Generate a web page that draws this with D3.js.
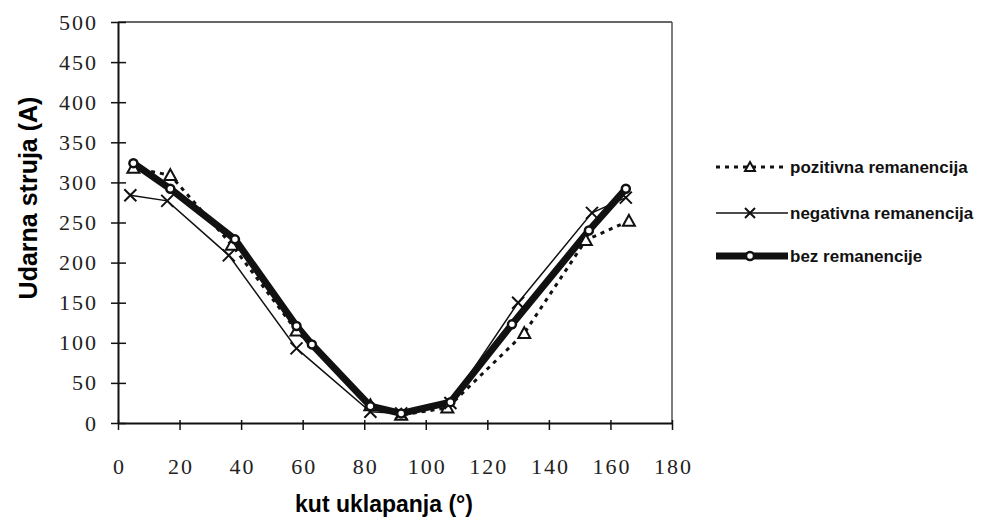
<!DOCTYPE html>
<html><head><meta charset="utf-8">
<script src="https://cdn.jsdelivr.net/npm/d3@7"></script>
<style>body{margin:0;background:#fff}</style>
</head><body>
<svg id="c" width="986" height="521"></svg>
<script>
const xTicks = [0,20,40,60,80,100,120,140,160,180];
const yTicks = [0,50,100,150,200,250,300,350,400,450,500];
const seriesNames = ["pozitivna remanencija","negativna remanencija","bez remanencije"];
const pozX = [5,17,37,58,82,92,107,132,152,166];
const pozY = [318,309,222,115,22,10,19,112,228,252];
const negX = [4,16,36,58,82,92,108,130,154,165];
const negY = [284,277,209,93,14,12,25,150,262,281];
const bezX = [5,17,38,58,63,82,92,108,128,153,165];
const bezY = [324,292,229,121,98,21,12,26,123,240,292];

const svg = d3.select("#c");
const M = {l:118, r:672, t:22, b:423};
const x = d3.scaleLinear().domain([0,180]).range([M.l, M.r]);
const y = d3.scaleLinear().domain([0,500]).range([M.b, M.t]);

// frame
svg.append("line").attr("x1",M.l).attr("x2",M.r).attr("y1",M.t).attr("y2",M.t).attr("stroke","#333").attr("stroke-width",1.5);
svg.append("line").attr("x1",M.r).attr("x2",M.r).attr("y1",M.t).attr("y2",M.b).attr("stroke","#555").attr("stroke-width",1.5);

// axes
const yAxis = svg.append("g").attr("transform",`translate(${M.l},0)`)
  .call(d3.axisLeft(y).tickValues(yTicks).tickSizeInner(7).tickSizeOuter(0).tickPadding(13));
const xAxis = svg.append("g").attr("transform",`translate(0,${M.b})`)
  .call(d3.axisBottom(x).tickValues(xTicks).tickSizeInner(7).tickSizeOuter(0).tickPadding(28));
[yAxis,xAxis].forEach(g=>{
  g.attr("font-family",null).attr("font-size",null);
  g.select(".domain").attr("stroke","#111").attr("stroke-width",2);
  g.selectAll(".tick line").attr("stroke","#111").attr("stroke-width",1.5);
  g.selectAll(".tick text")
    .style("font-family","'Liberation Serif','Times New Roman',serif")
    .style("font-size","22px").style("letter-spacing","2px").attr("fill","#222");
});
xAxis.selectAll(".tick text").attr("dx","1px");
// cross ticks
yAxis.selectAll(".tick").append("line").attr("x1",0).attr("x2",8).attr("stroke","#111").attr("stroke-width",1.5);
xAxis.selectAll(".tick").append("line").attr("y1",0).attr("y2",-3).attr("stroke","#111").attr("stroke-width",1.5);

// axis titles
svg.append("text").attr("transform","translate(37,198) rotate(-90)").attr("text-anchor","middle")
  .style("font-family","'Liberation Sans',Arial,sans-serif").style("font-weight","bold").style("font-size","25px").text("Udarna struja (A)");
svg.append("text").attr("x",384).attr("y",512).attr("text-anchor","middle")
  .style("font-family","'Liberation Sans',Arial,sans-serif").style("font-weight","bold").style("font-size","23px").text("kut uklapanja (°)");

const line = d3.line().x(d=>x(d[0])).y(d=>y(d[1]));
const poz = pozX.map((v,i)=>[v,pozY[i]]);
const neg = negX.map((v,i)=>[v,negY[i]]);
const bez = bezX.map((v,i)=>[v,bezY[i]]);

function tri(g, cx, cy, s){
  g.append("path").attr("d",`M${cx},${cy-s}L${cx+s},${cy+s*0.8}L${cx-s},${cy+s*0.8}Z`)
   .attr("fill","#fff").attr("stroke","#111").attr("stroke-width",2);
}
function cross(g, cx, cy, s){
  g.append("path").attr("d",`M${cx-s},${cy-s}L${cx+s},${cy+s}M${cx-s},${cy+s}L${cx+s},${cy-s}`)
   .attr("stroke","#111").attr("stroke-width",2);
}
function circ(g, cx, cy, r){
  g.append("circle").attr("cx",cx).attr("cy",cy).attr("r",r).attr("fill","#fff").attr("stroke","#111").attr("stroke-width",2.5);
}

svg.append("path").datum(neg).attr("d",line).attr("fill","none").attr("stroke","#111").attr("stroke-width",1.5);
svg.append("path").datum(poz).attr("d",line).attr("fill","none").attr("stroke","#111").attr("stroke-width",3).attr("stroke-dasharray","4,5");
svg.append("path").datum(bez).attr("d",line).attr("fill","none").attr("stroke","#111").attr("stroke-width",7).attr("stroke-linejoin","round");

const mk = svg.append("g");
poz.forEach(d=>tri(mk,x(d[0]),y(d[1]),6));
neg.forEach(d=>cross(mk,x(d[0]),y(d[1]),6));
bez.forEach(d=>circ(mk,x(d[0]),y(d[1]),4));

// legend
const lg = svg.append("g");
const rows = [167,213,256];
const lx1 = 716, lx2 = 788;
lg.append("line").attr("x1",lx1).attr("x2",lx2).attr("y1",rows[0]).attr("y2",rows[0]).attr("stroke","#111").attr("stroke-width",3).attr("stroke-dasharray","4,5");
tri(lg,(lx1+lx2)/2-2,rows[0],5);
lg.append("line").attr("x1",lx1).attr("x2",lx2).attr("y1",rows[1]).attr("y2",rows[1]).attr("stroke","#111").attr("stroke-width",1.5);
cross(lg,(lx1+lx2)/2-2,rows[1],5);
lg.append("line").attr("x1",lx1).attr("x2",lx2).attr("y1",rows[2]).attr("y2",rows[2]).attr("stroke","#111").attr("stroke-width",7);
circ(lg,(lx1+lx2)/2-2,rows[2],4);
seriesNames.forEach((n,i)=>{
  lg.append("text").attr("x",lx2+2).attr("y",rows[i]+6)
    .style("font-family","'Liberation Sans',Arial,sans-serif")
    .style("font-weight","bold").style("font-size","17px").attr("fill","#111").text(n);
});
</script>
</body></html>
